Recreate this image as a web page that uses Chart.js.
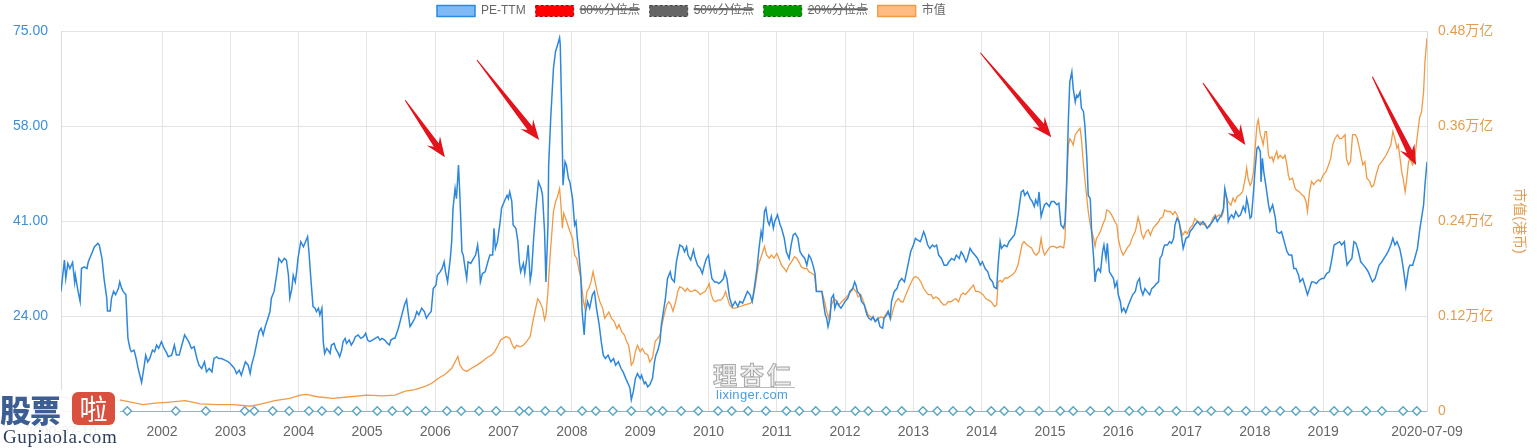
<!DOCTYPE html>
<html>
<head>
<meta charset="utf-8">
<script src="https://cdn.jsdelivr.net/npm/chart.js@4.4.0/dist/chart.umd.min.js"></script>
<style>
  body { margin: 0; background: #fff; }
  #wrap { position: relative; width: 1537px; height: 448px; }
  .mark { position: absolute; pointer-events: none; white-space: nowrap; }
  #lxName { left: 713px; top: 356px; font: bold 24px 'Noto Sans CJK SC', sans-serif; color: #eee;
            -webkit-text-stroke: 1px #a9a9a9; letter-spacing: 3px; }
  #lxLine { left: 715px; top: 387px; width: 80px; height: 1px; background: #bbb; }
  #lxUrl { left: 716px; top: 387px; font: 13px 'Liberation Sans', sans-serif; color: #4d9ede; letter-spacing: 0.3px; }
  #gp { left: 0; top: 390px; width: 120px; height: 58px; background: rgba(255,255,255,0.9); }
  #gpBlue { left: 0; top: -4px; font: 900 31px 'Noto Sans CJK SC', sans-serif; color: #3c5e93; letter-spacing: -1px; }
  #gpRed { left: 72px; top: 2px; width: 43px; height: 33px; border-radius: 6px; background: #d9503f;
           color: #fff; font: 28px 'Noto Sans CJK SC', sans-serif; line-height: 33px; text-align: center; }
  #gpUrl { left: 3px; top: 36px; font: 19px 'Liberation Serif', serif; color: #2d3f5c; letter-spacing: 0.6px; }
</style>
</head>
<body>
<div id="wrap">
  <canvas id="chart"></canvas>
  <div class="mark" id="lxName">理杏仁</div>
  <div class="mark" id="lxLine"></div>
  <div class="mark" id="lxUrl">lixinger.com</div>
  <div class="mark" id="gp">
    <div class="mark" id="gpBlue">股票</div>
    <div class="mark" id="gpRed">啦</div>
    <div class="mark" id="gpUrl">Gupiaola.com</div>
  </div>
</div>
<script>
// PE-TTM : [date (année décimale), valeur]
const peSeries = [
  [2000.52,28.4],[2000.57,34.0],[2000.59,30.7],[2000.62,33.4],[2000.65,32.5],[2000.69,33.6],[2000.72,30.1],[2000.73,31.3],[2000.77,28.4],[2000.80,26.6],
  [2000.82,32.5],[2000.86,32.8],[2000.90,32.5],[2000.92,33.7],[2000.97,35.2],[2001.01,36.4],[2001.06,37.0],[2001.08,36.7],[2001.12,34.3],[2001.15,30.7],
  [2001.19,27.2],[2001.20,24.9],[2001.24,24.9],[2001.26,27.2],[2001.29,28.4],[2001.32,27.8],[2001.36,28.9],[2001.38,30.1],[2001.41,28.9],[2001.43,28.4],
  [2001.47,27.8],[2001.50,20.0],[2001.53,18.2],[2001.55,17.6],[2001.59,17.9],[2001.62,16.4],[2001.65,14.6],[2001.70,12.1],[2001.74,15.2],[2001.76,17.0],
  [2001.79,15.8],[2001.82,16.4],[2001.86,17.9],[2001.89,17.6],[2001.92,18.8],[2001.95,18.2],[2001.99,19.4],[2002.03,18.2],[2002.07,17.3],[2002.09,16.7],
  [2002.14,17.0],[2002.18,18.8],[2002.21,17.0],[2002.25,17.0],[2002.29,18.8],[2002.33,20.6],[2002.36,20.0],[2002.39,19.4],[2002.43,18.2],[2002.47,18.5],
  [2002.51,16.4],[2002.54,15.2],[2002.58,14.6],[2002.62,15.8],[2002.65,14.0],[2002.69,14.6],[2002.73,14.0],[2002.76,16.4],[2002.80,16.7],[2002.83,16.4],
  [2002.87,16.4],[2002.92,16.1],[2002.97,15.8],[2003.02,15.2],[2003.06,14.6],[2003.09,13.7],[2003.13,14.3],[2003.16,13.4],[2003.19,14.6],[2003.22,15.8],
  [2003.26,15.2],[2003.29,13.7],[2003.31,15.2],[2003.35,17.0],[2003.38,18.8],[2003.42,21.2],[2003.45,21.8],[2003.48,20.6],[2003.51,22.1],[2003.55,23.6],
  [2003.58,24.8],[2003.60,27.2],[2003.64,28.4],[2003.68,31.6],[2003.71,34.3],[2003.75,33.6],[2003.79,34.3],[2003.82,34.0],[2003.85,31.3],[2003.87,27.2],
  [2003.90,28.9],[2003.92,31.3],[2003.95,30.1],[2003.97,31.9],[2003.99,34.3],[2004.03,37.3],[2004.07,36.4],[2004.10,37.3],[2004.13,38.2],[2004.15,35.5],
  [2004.18,30.4],[2004.21,25.7],[2004.24,25.4],[2004.26,24.8],[2004.29,25.4],[2004.31,24.2],[2004.34,25.4],[2004.36,19.4],[2004.38,17.3],[2004.41,18.2],
  [2004.43,17.9],[2004.46,17.3],[2004.48,18.8],[2004.52,19.1],[2004.54,18.2],[2004.58,17.3],[2004.60,16.7],[2004.63,17.9],[2004.65,19.4],[2004.68,20.0],
  [2004.70,19.1],[2004.74,19.7],[2004.77,18.8],[2004.80,19.4],[2004.83,20.3],[2004.87,20.6],[2004.91,20.0],[2004.95,20.3],[2004.98,20.9],[2005.01,19.7],
  [2005.04,19.4],[2005.08,19.7],[2005.12,20.0],[2005.16,20.3],[2005.19,19.7],[2005.22,20.0],[2005.26,19.7],[2005.30,19.1],[2005.33,18.8],[2005.35,19.7],
  [2005.39,20.0],[2005.41,20.0],[2005.46,21.8],[2005.51,24.2],[2005.55,26.0],[2005.58,26.9],[2005.60,24.8],[2005.63,22.1],[2005.66,22.7],[2005.70,23.6],
  [2005.73,24.8],[2005.76,24.2],[2005.80,25.4],[2005.84,24.8],[2005.87,23.6],[2005.90,24.2],[2005.94,24.8],[2005.97,28.9],[2006.01,29.5],[2006.03,31.3],
  [2006.07,31.9],[2006.10,32.5],[2006.13,33.7],[2006.15,31.9],[2006.18,30.1],[2006.22,34.3],[2006.24,37.3],[2006.26,43.3],[2006.29,46.8],[2006.31,45.0],
  [2006.34,51.0],[2006.36,45.6],[2006.39,35.5],[2006.41,34.9],[2006.43,33.1],[2006.46,30.7],[2006.48,33.7],[2006.52,33.4],[2006.56,34.3],[2006.59,34.9],
  [2006.62,36.7],[2006.64,34.3],[2006.66,30.1],[2006.69,31.6],[2006.73,31.9],[2006.77,33.7],[2006.80,34.9],[2006.84,34.9],[2006.86,39.7],[2006.88,36.1],
  [2006.91,37.3],[2006.95,40.9],[2006.97,43.3],[2007.01,44.5],[2007.05,45.6],[2007.07,45.0],[2007.09,46.2],[2007.12,44.5],[2007.14,40.3],[2007.18,39.7],
  [2007.21,37.3],[2007.23,33.7],[2007.25,31.9],[2007.29,33.4],[2007.31,31.6],[2007.34,34.3],[2007.36,36.7],[2007.39,30.4],[2007.41,31.9],[2007.44,37.9],
  [2007.47,42.7],[2007.51,48.0],[2007.55,46.8],[2007.57,45.6],[2007.60,39.1],[2007.62,30.1],[2007.65,40.3],[2007.66,51.0],[2007.69,59.4],[2007.73,68.3],
  [2007.76,71.3],[2007.79,72.5],[2007.82,73.8],[2007.83,72.5],[2007.85,61.2],[2007.87,47.4],[2007.90,51.6],[2007.92,51.0],[2007.95,48.6],[2007.97,48.0],
  [2008.01,45.0],[2008.04,40.3],[2008.06,40.9],[2008.08,37.9],[2008.10,35.5],[2008.13,31.3],[2008.15,24.8],[2008.18,20.6],[2008.20,24.8],[2008.23,26.6],
  [2008.26,25.4],[2008.30,27.8],[2008.33,28.4],[2008.36,25.4],[2008.40,22.4],[2008.43,19.4],[2008.46,17.0],[2008.49,16.4],[2008.53,17.0],[2008.57,15.8],
  [2008.61,16.4],[2008.64,15.2],[2008.68,15.8],[2008.72,14.6],[2008.75,14.0],[2008.79,12.8],[2008.83,11.7],[2008.85,11.1],[2008.87,9.0],[2008.90,10.5],
  [2008.93,12.8],[2008.96,13.7],[2009.00,12.8],[2009.02,13.4],[2009.06,11.9],[2009.08,12.2],[2009.11,11.3],[2009.14,11.7],[2009.18,12.8],[2009.21,15.8],
  [2009.23,17.0],[2009.26,17.9],[2009.29,19.4],[2009.31,22.4],[2009.34,24.8],[2009.37,27.2],[2009.40,30.7],[2009.44,31.9],[2009.46,30.7],[2009.50,30.1],
  [2009.53,33.7],[2009.56,35.5],[2009.58,36.7],[2009.62,36.4],[2009.65,35.5],[2009.68,36.4],[2009.70,34.9],[2009.74,34.0],[2009.78,35.8],[2009.80,34.6],
  [2009.84,33.1],[2009.88,32.5],[2009.91,31.6],[2009.94,33.1],[2009.97,34.3],[2010.00,34.9],[2010.02,33.1],[2010.05,30.7],[2010.09,30.1],[2010.12,30.1],
  [2010.15,29.8],[2010.18,30.1],[2010.22,30.7],[2010.24,31.9],[2010.27,30.7],[2010.29,28.9],[2010.31,27.2],[2010.35,25.7],[2010.39,26.6],[2010.43,25.7],
  [2010.46,26.6],[2010.50,26.3],[2010.53,27.2],[2010.57,28.4],[2010.61,27.8],[2010.64,26.6],[2010.67,28.9],[2010.71,32.5],[2010.74,36.1],[2010.77,39.1],
  [2010.79,37.9],[2010.82,42.7],[2010.84,43.3],[2010.87,40.9],[2010.89,40.3],[2010.92,41.8],[2010.95,39.7],[2010.97,40.9],[2011.01,42.1],[2011.05,40.3],
  [2011.07,39.7],[2011.11,37.9],[2011.14,35.5],[2011.18,34.3],[2011.21,36.7],[2011.24,38.5],[2011.27,38.8],[2011.31,37.9],[2011.34,35.5],[2011.37,34.9],
  [2011.41,34.3],[2011.44,33.1],[2011.47,34.9],[2011.50,34.3],[2011.53,33.1],[2011.56,31.6],[2011.58,28.4],[2011.62,28.4],[2011.66,28.4],[2011.68,26.6],
  [2011.71,24.2],[2011.73,23.6],[2011.75,22.1],[2011.78,23.6],[2011.80,27.2],[2011.83,27.8],[2011.85,25.4],[2011.88,26.6],[2011.90,26.0],[2011.94,25.4],
  [2011.97,26.0],[2012.00,26.6],[2012.04,27.2],[2012.07,28.4],[2012.11,28.9],[2012.14,30.1],[2012.16,29.5],[2012.18,28.4],[2012.22,27.8],[2012.24,26.6],
  [2012.28,26.0],[2012.32,24.2],[2012.35,23.6],[2012.38,23.3],[2012.41,23.9],[2012.44,23.0],[2012.48,23.6],[2012.51,22.1],[2012.55,21.8],[2012.57,23.6],
  [2012.61,24.2],[2012.63,24.8],[2012.66,23.6],[2012.68,26.6],[2012.72,28.4],[2012.76,28.9],[2012.79,30.1],[2012.83,30.7],[2012.87,30.1],[2012.90,31.9],
  [2012.93,33.7],[2012.96,35.5],[2013.00,36.7],[2013.03,37.9],[2013.06,37.6],[2013.10,37.3],[2013.12,37.9],[2013.15,39.1],[2013.17,38.5],[2013.21,36.7],
  [2013.24,36.1],[2013.28,36.7],[2013.31,36.4],[2013.34,36.7],[2013.37,34.9],[2013.41,34.3],[2013.45,33.1],[2013.49,33.1],[2013.52,33.7],[2013.56,34.3],
  [2013.60,34.0],[2013.63,34.9],[2013.67,34.3],[2013.70,35.5],[2013.73,34.9],[2013.77,33.7],[2013.79,34.3],[2013.83,36.1],[2013.86,35.5],[2013.90,34.9],
  [2013.94,34.3],[2013.98,33.1],[2014.01,33.7],[2014.05,32.5],[2014.09,31.9],[2014.12,30.7],[2014.16,30.1],[2014.18,29.2],[2014.22,28.9],[2014.24,33.1],
  [2014.27,37.3],[2014.29,36.1],[2014.33,36.7],[2014.37,36.4],[2014.40,37.3],[2014.44,37.9],[2014.48,38.5],[2014.51,40.3],[2014.54,42.7],[2014.56,44.5],
  [2014.58,46.2],[2014.61,46.5],[2014.63,45.6],[2014.67,46.2],[2014.71,45.0],[2014.74,44.5],[2014.77,43.6],[2014.79,44.8],[2014.82,43.9],[2014.84,46.2],
  [2014.87,41.8],[2014.89,42.7],[2014.92,43.9],[2014.95,44.2],[2014.99,43.6],[2015.02,44.5],[2015.06,44.5],[2015.10,43.9],[2015.13,44.2],[2015.16,40.3],
  [2015.20,39.7],[2015.22,40.9],[2015.24,46.2],[2015.27,59.4],[2015.29,65.9],[2015.32,67.7],[2015.34,64.7],[2015.37,62.3],[2015.39,63.5],[2015.41,63.2],
  [2015.44,64.1],[2015.46,61.2],[2015.49,60.6],[2015.51,58.2],[2015.54,52.2],[2015.56,45.6],[2015.59,45.0],[2015.61,39.1],[2015.64,34.3],[2015.66,30.1],
  [2015.68,31.9],[2015.71,32.5],[2015.74,31.9],[2015.77,35.5],[2015.79,36.7],[2015.82,34.3],[2015.84,37.0],[2015.87,31.9],[2015.90,31.3],[2015.93,30.7],
  [2015.95,29.2],[2015.98,30.1],[2016.00,27.8],[2016.03,26.6],[2016.05,24.8],[2016.08,25.4],[2016.11,24.6],[2016.15,26.0],[2016.17,26.6],[2016.21,27.8],
  [2016.25,28.4],[2016.28,30.1],[2016.31,30.7],[2016.33,28.9],[2016.36,27.8],[2016.39,28.9],[2016.42,28.4],[2016.46,27.8],[2016.49,28.9],[2016.52,29.2],
  [2016.56,29.8],[2016.59,30.1],[2016.61,34.3],[2016.64,34.9],[2016.66,36.1],[2016.68,36.7],[2016.72,36.7],[2016.75,37.3],[2016.78,37.0],[2016.81,37.9],
  [2016.83,40.3],[2016.86,41.5],[2016.89,40.9],[2016.93,37.9],[2016.95,36.1],[2016.99,37.9],[2017.03,38.2],[2017.05,39.1],[2017.09,39.7],[2017.12,40.3],
  [2017.16,40.9],[2017.20,40.3],[2017.24,40.9],[2017.27,40.3],[2017.30,39.7],[2017.34,40.3],[2017.38,40.9],[2017.42,41.8],[2017.45,40.9],[2017.48,41.5],
  [2017.51,42.1],[2017.54,43.3],[2017.56,46.8],[2017.59,45.0],[2017.61,40.9],[2017.64,41.8],[2017.66,42.1],[2017.69,41.5],[2017.72,42.7],[2017.76,41.8],
  [2017.79,42.1],[2017.83,43.6],[2017.86,42.7],[2017.88,45.0],[2017.90,43.9],[2017.93,41.5],[2017.95,41.8],[2017.98,46.2],[2018.00,49.8],[2018.03,54.0],
  [2018.05,54.3],[2018.08,53.4],[2018.09,48.0],[2018.11,52.2],[2018.13,49.8],[2018.16,47.4],[2018.20,43.9],[2018.22,42.7],[2018.26,43.9],[2018.30,41.5],
  [2018.32,39.1],[2018.36,38.8],[2018.39,39.1],[2018.43,37.3],[2018.47,35.5],[2018.50,34.9],[2018.54,34.9],[2018.57,32.5],[2018.60,32.5],[2018.64,31.3],
  [2018.66,30.1],[2018.70,30.7],[2018.73,29.5],[2018.77,27.8],[2018.80,28.9],[2018.83,30.1],[2018.86,30.1],[2018.90,29.8],[2018.94,30.4],[2018.98,30.7],
  [2019.01,30.7],[2019.05,31.6],[2019.09,31.9],[2019.12,33.7],[2019.16,36.7],[2019.20,37.0],[2019.24,37.3],[2019.27,36.7],[2019.31,37.3],[2019.33,34.9],
  [2019.35,33.1],[2019.38,33.7],[2019.42,34.3],[2019.45,37.3],[2019.48,37.0],[2019.51,35.8],[2019.55,33.7],[2019.59,33.1],[2019.63,32.5],[2019.66,31.9],
  [2019.70,30.7],[2019.72,30.1],[2019.76,30.7],[2019.79,31.9],[2019.82,33.1],[2019.86,33.7],[2019.89,34.3],[2019.92,34.9],[2019.95,35.5],[2019.99,36.7],
  [2020.02,37.9],[2020.05,36.7],[2020.08,37.3],[2020.12,36.1],[2020.15,34.3],[2020.18,31.9],[2020.21,29.2],[2020.25,32.5],[2020.27,33.1],[2020.31,33.1],
  [2020.34,34.3],[2020.38,36.1],[2020.41,39.1],[2020.44,41.5],[2020.47,43.9],[2020.49,47.4],[2020.52,51.6]
];

// 市值 (万亿港币)
const capSeries = [
  [2000.52,0.018],[2000.72,0.014],[2000.94,0.009],[2001.16,0.011],[2001.38,0.014],[2001.72,0.008],[2001.90,0.010],[2002.07,0.011],[2002.34,0.013],[2002.56,0.009],
  [2002.80,0.008],[2003.04,0.008],[2003.29,0.006],[2003.46,0.009],[2003.65,0.013],[2003.87,0.016],[2004.02,0.020],[2004.12,0.021],[2004.27,0.018],[2004.50,0.016],
  [2004.75,0.018],[2005.00,0.020],[2005.23,0.019],[2005.41,0.020],[2005.56,0.025],[2005.70,0.027],[2005.85,0.031],[2005.95,0.035],[2006.04,0.041],[2006.14,0.046],
  [2006.19,0.050],[2006.24,0.054],[2006.29,0.062],[2006.33,0.069],[2006.36,0.058],[2006.41,0.052],[2006.46,0.050],[2006.53,0.054],[2006.61,0.058],[2006.68,0.062],
  [2006.75,0.067],[2006.83,0.071],[2006.87,0.075],[2006.92,0.083],[2006.96,0.090],[2007.00,0.092],[2007.04,0.094],[2007.09,0.092],[2007.13,0.083],[2007.16,0.079],
  [2007.19,0.083],[2007.24,0.081],[2007.29,0.083],[2007.34,0.088],[2007.39,0.094],[2007.42,0.109],[2007.46,0.126],[2007.50,0.142],[2007.53,0.138],[2007.57,0.130],
  [2007.60,0.115],[2007.62,0.121],[2007.65,0.151],[2007.66,0.168],[2007.69,0.206],[2007.73,0.252],[2007.76,0.264],[2007.79,0.271],[2007.82,0.281],[2007.84,0.260],
  [2007.86,0.231],[2007.88,0.250],[2007.91,0.243],[2007.94,0.235],[2007.97,0.227],[2008.01,0.218],[2008.04,0.197],[2008.07,0.193],[2008.10,0.180],[2008.13,0.168],
  [2008.17,0.138],[2008.19,0.130],[2008.22,0.151],[2008.25,0.155],[2008.28,0.163],[2008.31,0.176],[2008.34,0.163],[2008.38,0.147],[2008.41,0.138],[2008.45,0.130],
  [2008.48,0.117],[2008.51,0.121],[2008.54,0.125],[2008.58,0.117],[2008.62,0.113],[2008.66,0.104],[2008.69,0.109],[2008.73,0.100],[2008.77,0.096],[2008.80,0.088],
  [2008.83,0.083],[2008.85,0.073],[2008.87,0.058],[2008.90,0.062],[2008.93,0.075],[2008.96,0.083],[2009.00,0.075],[2009.03,0.079],[2009.07,0.073],[2009.11,0.071],
  [2009.14,0.062],[2009.18,0.067],[2009.22,0.088],[2009.26,0.092],[2009.29,0.096],[2009.32,0.109],[2009.35,0.121],[2009.39,0.134],[2009.42,0.138],[2009.45,0.134],
  [2009.48,0.126],[2009.52,0.138],[2009.55,0.151],[2009.58,0.157],[2009.62,0.155],[2009.66,0.151],[2009.69,0.155],[2009.73,0.151],[2009.76,0.151],[2009.80,0.153],
  [2009.84,0.151],[2009.88,0.147],[2009.91,0.149],[2009.95,0.151],[2009.99,0.157],[2010.01,0.161],[2010.04,0.147],[2010.07,0.140],[2010.10,0.138],[2010.14,0.140],
  [2010.18,0.140],[2010.22,0.144],[2010.25,0.151],[2010.28,0.142],[2010.31,0.134],[2010.35,0.130],[2010.39,0.130],[2010.46,0.132],[2010.53,0.134],[2010.61,0.136],
  [2010.64,0.138],[2010.68,0.155],[2010.73,0.184],[2010.78,0.197],[2010.82,0.208],[2010.85,0.197],[2010.89,0.193],[2010.92,0.197],[2010.96,0.193],[2011.00,0.199],
  [2011.03,0.193],[2011.07,0.184],[2011.11,0.180],[2011.14,0.176],[2011.18,0.184],[2011.22,0.189],[2011.26,0.195],[2011.29,0.193],[2011.32,0.189],[2011.36,0.182],
  [2011.40,0.180],[2011.44,0.180],[2011.47,0.176],[2011.51,0.174],[2011.55,0.172],[2011.58,0.151],[2011.62,0.151],[2011.66,0.151],[2011.70,0.138],[2011.73,0.126],
  [2011.76,0.117],[2011.80,0.134],[2011.84,0.142],[2011.88,0.138],[2011.91,0.134],[2011.95,0.138],[2012.00,0.142],[2012.05,0.147],[2012.09,0.151],[2012.12,0.155],
  [2012.16,0.151],[2012.19,0.144],[2012.23,0.147],[2012.27,0.138],[2012.30,0.130],[2012.34,0.121],[2012.38,0.119],[2012.41,0.117],[2012.45,0.113],[2012.49,0.117],
  [2012.53,0.119],[2012.56,0.117],[2012.59,0.121],[2012.63,0.126],[2012.67,0.117],[2012.71,0.130],[2012.74,0.138],[2012.78,0.142],[2012.82,0.138],[2012.85,0.138],
  [2012.89,0.147],[2012.93,0.155],[2012.96,0.161],[2013.00,0.168],[2013.03,0.170],[2013.07,0.168],[2013.11,0.163],[2013.15,0.155],[2013.18,0.151],[2013.22,0.147],
  [2013.26,0.147],[2013.29,0.142],[2013.33,0.144],[2013.37,0.142],[2013.40,0.138],[2013.44,0.134],[2013.47,0.134],[2013.51,0.138],[2013.55,0.138],[2013.58,0.140],
  [2013.62,0.142],[2013.66,0.138],[2013.70,0.147],[2013.73,0.149],[2013.76,0.147],[2013.80,0.151],[2013.84,0.155],[2013.88,0.159],[2013.91,0.151],[2013.95,0.151],
  [2013.99,0.149],[2014.02,0.147],[2014.06,0.142],[2014.10,0.140],[2014.14,0.138],[2014.17,0.134],[2014.19,0.132],[2014.22,0.134],[2014.24,0.163],[2014.27,0.165],
  [2014.30,0.163],[2014.34,0.168],[2014.38,0.168],[2014.41,0.170],[2014.45,0.172],[2014.49,0.176],[2014.53,0.184],[2014.56,0.197],[2014.59,0.210],[2014.62,0.214],
  [2014.66,0.210],[2014.69,0.208],[2014.73,0.206],[2014.77,0.199],[2014.80,0.197],[2014.84,0.201],[2014.87,0.218],[2014.89,0.206],[2014.92,0.197],[2014.95,0.201],
  [2014.99,0.206],[2015.02,0.208],[2015.06,0.208],[2015.10,0.206],[2015.15,0.208],[2015.20,0.206],[2015.22,0.218],[2015.24,0.277],[2015.27,0.336],[2015.29,0.344],
  [2015.32,0.340],[2015.34,0.336],[2015.37,0.349],[2015.40,0.353],[2015.42,0.355],[2015.44,0.357],[2015.46,0.344],[2015.49,0.311],[2015.53,0.277],[2015.56,0.252],
  [2015.59,0.235],[2015.61,0.227],[2015.64,0.218],[2015.66,0.208],[2015.68,0.218],[2015.71,0.222],[2015.74,0.227],[2015.77,0.235],[2015.81,0.243],[2015.83,0.254],
  [2015.87,0.252],[2015.90,0.248],[2015.93,0.243],[2015.95,0.239],[2015.98,0.235],[2016.00,0.218],[2016.03,0.206],[2016.05,0.201],[2016.07,0.197],[2016.10,0.201],
  [2016.13,0.206],[2016.17,0.210],[2016.20,0.218],[2016.22,0.222],[2016.25,0.227],[2016.27,0.235],[2016.29,0.245],[2016.32,0.235],[2016.34,0.224],[2016.37,0.218],
  [2016.41,0.227],[2016.44,0.229],[2016.47,0.222],[2016.51,0.231],[2016.55,0.235],[2016.59,0.239],[2016.61,0.243],[2016.65,0.245],[2016.68,0.254],[2016.72,0.252],
  [2016.76,0.252],[2016.80,0.248],[2016.83,0.252],[2016.86,0.248],[2016.88,0.243],[2016.90,0.235],[2016.94,0.222],[2016.98,0.227],[2017.01,0.224],[2017.05,0.231],
  [2017.09,0.235],[2017.12,0.243],[2017.16,0.239],[2017.20,0.239],[2017.24,0.235],[2017.27,0.237],[2017.30,0.231],[2017.34,0.233],[2017.38,0.243],[2017.42,0.248],
  [2017.44,0.245],[2017.48,0.248],[2017.51,0.245],[2017.54,0.252],[2017.56,0.273],[2017.59,0.269],[2017.61,0.264],[2017.65,0.260],[2017.68,0.269],[2017.71,0.264],
  [2017.74,0.271],[2017.78,0.273],[2017.82,0.277],[2017.86,0.294],[2017.88,0.307],[2017.90,0.294],[2017.93,0.285],[2017.95,0.288],[2017.98,0.302],[2018.00,0.328],
  [2018.03,0.361],[2018.05,0.368],[2018.08,0.349],[2018.10,0.344],[2018.12,0.336],[2018.15,0.353],[2018.17,0.353],[2018.20,0.323],[2018.22,0.319],[2018.25,0.321],
  [2018.27,0.315],[2018.29,0.321],[2018.32,0.328],[2018.34,0.319],[2018.37,0.323],[2018.41,0.319],[2018.44,0.323],[2018.47,0.311],[2018.49,0.298],[2018.51,0.292],
  [2018.55,0.294],[2018.59,0.281],[2018.61,0.279],[2018.65,0.277],[2018.69,0.273],[2018.72,0.271],[2018.75,0.264],[2018.77,0.252],[2018.80,0.277],[2018.83,0.290],
  [2018.86,0.286],[2018.90,0.290],[2018.93,0.292],[2018.96,0.290],[2019.00,0.298],[2019.04,0.302],[2019.08,0.311],[2019.11,0.319],[2019.14,0.336],[2019.17,0.344],
  [2019.21,0.349],[2019.24,0.344],[2019.27,0.344],[2019.30,0.347],[2019.32,0.349],[2019.34,0.319],[2019.37,0.311],[2019.40,0.315],[2019.43,0.349],[2019.47,0.349],
  [2019.50,0.344],[2019.54,0.328],[2019.58,0.311],[2019.61,0.315],[2019.64,0.294],[2019.68,0.290],[2019.71,0.283],[2019.74,0.285],[2019.78,0.300],[2019.82,0.311],
  [2019.86,0.315],[2019.89,0.319],[2019.92,0.323],[2019.95,0.328],[2019.99,0.336],[2020.02,0.353],[2020.05,0.344],[2020.08,0.332],[2020.10,0.336],[2020.12,0.323],
  [2020.15,0.302],[2020.17,0.294],[2020.20,0.277],[2020.22,0.290],[2020.25,0.315],[2020.27,0.319],[2020.31,0.311],[2020.34,0.319],[2020.38,0.349],[2020.41,0.370],
  [2020.44,0.378],[2020.47,0.403],[2020.49,0.441],[2020.52,0.471]
];

// dates des losanges (分红)
const dividendDates = [
  2001.49, 2002.20, 2002.64, 2003.21, 2003.35, 2003.62, 2003.86, 2004.15, 2004.34, 2004.58, 2004.85, 2005.15, 2005.37, 2005.59, 2005.86,
  2006.17, 2006.38, 2006.64, 2006.89, 2007.23, 2007.37, 2007.61, 2007.84, 2008.15, 2008.35, 2008.60, 2008.87, 2009.16, 2009.33, 2009.60,
  2009.85, 2010.14, 2010.34, 2010.58, 2010.84, 2011.14, 2011.33, 2011.57, 2011.87, 2012.15, 2012.34, 2012.60, 2012.83, 2013.14, 2013.35,
  2013.58, 2013.83, 2014.14, 2014.33, 2014.56, 2014.84, 2015.15, 2015.34, 2015.59, 2015.86, 2016.16, 2016.35, 2016.60, 2016.85, 2017.17,
  2017.36, 2017.61, 2017.87, 2018.16, 2018.37, 2018.60, 2018.87, 2019.16, 2019.36, 2019.63, 2019.86, 2020.17, 2020.37
];

// axes
const leftTicks = [7, 24, 41, 58, 75];
const rightTicks = [0, 0.12, 0.24, 0.36, 0.48];
const yearTicks = [2002, 2003, 2004, 2005, 2006, 2007, 2008, 2009, 2010, 2011, 2012, 2013, 2014, 2015, 2016, 2017, 2018, 2019];
const xStart = 2000.52, xEnd = 2020.52;
const startLabel = '2000-07-10', endLabel = '2020-07-09';

// flèches rouges : [date queue, PE queue, date pointe, PE pointe]
const arrows = [
  [2005.56, 62.6, 2006.14, 52.4],
  [2006.61, 69.8, 2007.52, 55.5],
  [2013.98, 71.1, 2015.02, 56.0],
  [2017.24, 65.7, 2017.86, 54.6],
  [2019.72, 66.8, 2020.36, 51.0]
];

const FONT = "'Liberation Sans', 'Noto Sans CJK SC', sans-serif";
Chart.defaults.font.family = FONT;
Chart.defaults.color = '#666';

// legende : hauteur et position fixes
const legendBox = {
  id: 'legendBox',
  beforeInit(chart) {
    const legend = chart.legend;
    const fit = legend.fit;
    legend.fit = function () {
      fit.call(this);
      this.height = 31;
    };
  },
  afterLayout(chart) {
    chart.legend.left = 427;
    chart.legend.top = -5;
  }
};

const arrowPlugin = {
  id: 'arrows',
  afterDatasetsDraw(chart) {
    const { ctx, scales: { x, y } } = chart;
    ctx.save();
    ctx.fillStyle = '#e3121b';
    arrows.forEach(a => {
      const x0 = x.getPixelForValue(a[0]), y0 = y.getPixelForValue(a[1]);
      const x1 = x.getPixelForValue(a[2]), y1 = y.getPixelForValue(a[3]);
      const dx = x1 - x0, dy = y1 - y0, len = Math.hypot(dx, dy);
      const ux = dx / len, uy = dy / len, px = -uy, py = ux;
      const head = 20, wing = 8, neck = 3;
      const bx = x1 - ux * head, by = y1 - uy * head;
      const nx = x1 - ux * (head - 5), ny = y1 - uy * (head - 5);
      ctx.beginPath();
      ctx.moveTo(x0 + px * 0.5, y0 + py * 0.5);
      ctx.lineTo(nx + px * neck, ny + py * neck);
      ctx.lineTo(bx + px * wing, by + py * wing);
      ctx.lineTo(x1, y1);
      ctx.lineTo(bx - px * wing, by - py * wing);
      ctx.lineTo(nx - px * neck, ny - py * neck);
      ctx.lineTo(x0 - px * 0.5, y0 - py * 0.5);
      ctx.closePath();
      ctx.fill();
    });
    ctx.restore();
  }
};

const toPoints = arr => arr.map(p => ({ x: p[0], y: p[1] }));

new Chart(document.getElementById('chart'), {
  type: 'line',
  data: {
    datasets: [
      {
        label: 'PE-TTM',
        data: toPoints(peSeries),
        yAxisID: 'y',
        borderColor: '#2f87dc',
        backgroundColor: '#80baf5',
        borderWidth: 1.5,
        pointRadius: 0
      },
      {
        label: '80%分位点', data: [], yAxisID: 'y', hidden: true,
        borderColor: '#b00000', backgroundColor: '#ff0000', borderWidth: 1, borderDash: [3, 2], pointRadius: 0
      },
      {
        label: '50%分位点', data: [], yAxisID: 'y', hidden: true,
        borderColor: '#444', backgroundColor: '#666', borderWidth: 1, borderDash: [3, 2], pointRadius: 0
      },
      {
        label: '20%分位点', data: [], yAxisID: 'y', hidden: true,
        borderColor: '#006600', backgroundColor: '#009900', borderWidth: 1, borderDash: [3, 2], pointRadius: 0
      },
      {
        label: '市值',
        data: toPoints(capSeries),
        yAxisID: 'y1',
        borderColor: '#f09a45',
        backgroundColor: '#ffbb80',
        borderWidth: 1.3,
        pointRadius: 0
      },
      {
        label: '分红',
        data: dividendDates.map(d => ({ x: d, y: 0 })),
        yAxisID: 'y1',
        showLine: false,
        pointStyle: 'rectRot',
        pointRadius: 4.2,
        pointBorderWidth: 1.5,
        pointBorderColor: '#5ea6c6',
        pointBackgroundColor: '#fff',
        clip: false
      }
    ]
  },
  options: {
    responsive: true,
    maintainAspectRatio: false,
    animation: false,
    events: [],
    layout: { padding: 0 },
    plugins: {
      tooltip: { enabled: false },
      legend: {
        position: 'top',
        align: 'start',
        labels: {
          boxWidth: 38,
          boxHeight: 11,
          padding: 10,
          color: '#666',
          font: { size: 12 },
          filter: item => item.text !== '分红'
        }
      }
    },
    scales: {
      x: {
        type: 'linear',
        min: xStart,
        max: xEnd,
        afterFit: s => { s.height = 37; },
        afterBuildTicks: s => {
          s.ticks = [xStart, ...yearTicks, xEnd].map(v => ({ value: v }));
        },
        ticks: {
          autoSkip: false,
          maxRotation: 0,
          minRotation: 0,
          padding: 13,
          color: '#666',
          font: { size: 14 },
          callback: v => v === xStart ? startLabel : (v === xEnd ? endLabel : String(v))
        },
        grid: { color: '#e4e4e4', drawTicks: false },
        border: { color: '#9cb0bd' }
      },
      y: {
        position: 'left',
        min: 7,
        max: 75,
        afterFit: s => { s.width = 61; },
        afterBuildTicks: s => { s.ticks = leftTicks.map(v => ({ value: v })); },
        ticks: {
          padding: 13,
          color: '#3d8fd8',
          font: { size: 14 },
          callback: v => v.toFixed(2)
        },
        grid: {
          drawTicks: false,
          color: c => (c.tick && c.tick.value === 7) ? '#9cb0bd' : '#e4e4e4'
        },
        border: { color: '#dcdcdc' }
      },
      y1: {
        position: 'right',
        min: 0,
        max: 0.48,
        afterFit: s => { s.width = 110; },
        afterBuildTicks: s => { s.ticks = rightTicks.map(v => ({ value: v })); },
        ticks: {
          padding: 11,
          color: '#e39d52',
          font: { size: 14 },
          callback: v => v === 0 ? '0' : v.toFixed(2) + '万亿'
        },
        grid: { drawOnChartArea: false, drawTicks: false },
        border: { color: '#dcdcdc' },
        title: {
          display: true,
          text: '市值(港币)',
          color: '#e39d52',
          font: { size: 14 },
          padding: { top: 10, bottom: 0 }
        }
      }
    }
  },
  plugins: [legendBox, arrowPlugin]
});
</script>
</body>
</html>
